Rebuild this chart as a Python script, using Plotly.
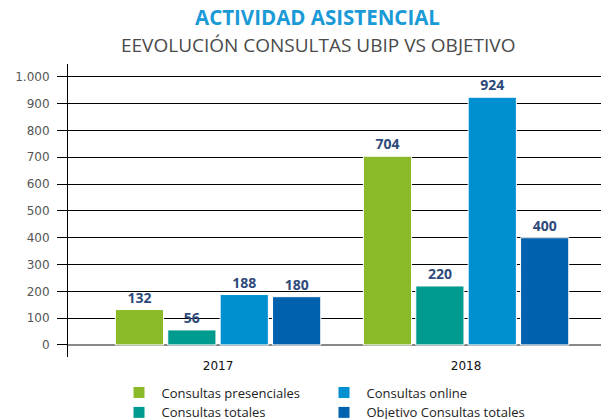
import plotly.graph_objects as go

years = ["2017", "2018"]
presenciales = [132, 704]
totales = [56, 220]
online = [188, 924]
objetivo = [180, 400]

series = [
    ("Consultas presenciales", presenciales, "#8aba2a", 1),
    ("Consultas totales", totales, "#009b8f", 3),
    ("Consultas online", online, "#0090d0", 2),
    ("Objetivo Consultas totales", objetivo, "#0062ae", 4),
]

xpos = list(range(len(years)))
fig = go.Figure()
for name, vals, col, rank in series:
    fig.add_trace(go.Bar(
        x=xpos, y=vals, name=name, marker_color=col,
        marker_line_color="white", marker_line_width=1,
        text=[str(v) for v in vals], textposition="outside",
        textfont=dict(family="Open Sans", size=14, color="#2e4a7b", weight="bold"),
        cliponaxis=False, legendrank=rank,
    ))

# page body has an 8px margin, so the figure is sized 603x411 and offset by the page
fig.update_layout(
    width=603, height=411,
    margin=dict(l=60, r=10, t=56, b=62, autoexpand=False),
    paper_bgcolor="white", plot_bgcolor="white",
    barmode="group", bargap=0.155, bargroupgap=0.08,
    separators=",.",
    showlegend=True,
    legend=dict(orientation="h", x=0.091, xanchor="left", y=-0.07, yanchor="top",
                entrywidth=155, font=dict(family="Open Sans", size=13, color="#222"),
                itemwidth=35, tracegroupgap=0, bgcolor="rgba(0,0,0,0)"),
    font=dict(family="Open Sans"),
    annotations=[
        dict(text="<b>ACTIVIDAD ASISTENCIAL</b>", x=0.469, y=1.16, xref="paper", yref="paper",
             xanchor="center", yanchor="middle", showarrow=False,
             font=dict(family="Open Sans", size=20.5, color="#1a9ad6")),
        dict(text="EEVOLUCIÓN CONSULTAS UBIP VS OBJETIVO", x=0.469, y=1.065, xref="paper", yref="paper",
             xanchor="center", yanchor="middle", showarrow=False,
             font=dict(family="Open Sans", size=19, color="#4a4a4a")),
    ],
)
fig.update_xaxes(
    tickvals=xpos, ticktext=years, range=[-0.605, 1.544],
    showgrid=False, zeroline=False, showline=False,
    tickfont=dict(family="DejaVu Sans", size=12, color="#111"),
)
fig.update_yaxes(
    range=[-45, 1048], tickvals=list(range(0, 1001, 100)), tickformat=",d",
    showgrid=True, gridcolor="black", gridwidth=1,
    zeroline=True, zerolinecolor="#888", zerolinewidth=2,
    showline=True, linecolor="black", linewidth=1,
    ticks="outside", ticklen=10, tickcolor="black", ticklabelstandoff=5,
    tickfont=dict(family="DejaVu Sans", size=12, color="#555"),
)
fig.write_html("out.html")
